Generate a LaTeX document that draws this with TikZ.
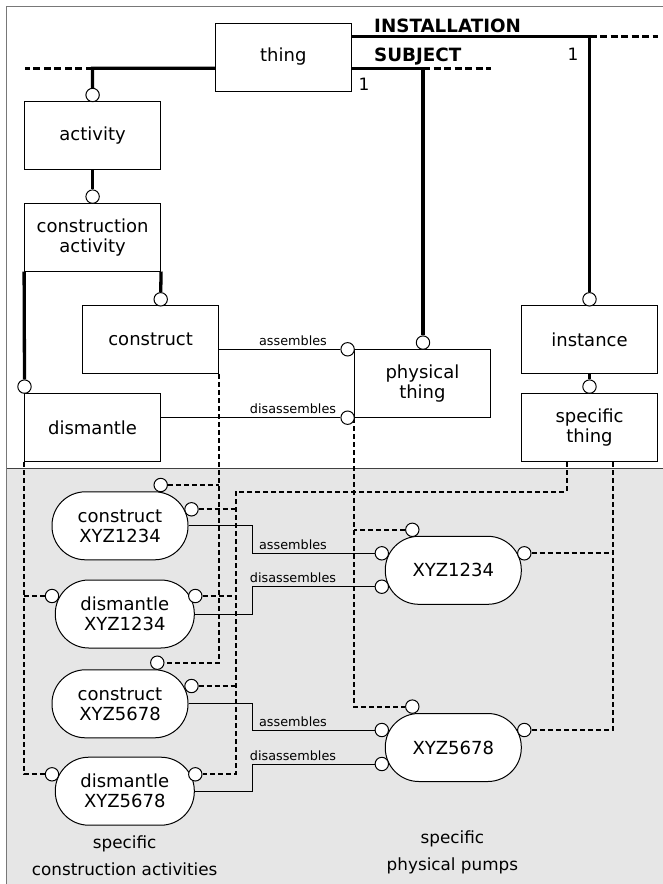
\documentclass[tikz,border=0pt]{standalone}
\usepackage{fontspec}
\setmainfont{DejaVu Sans}
\usetikzlibrary{calc,backgrounds}
\definecolor{panel}{RGB}{230,230,230}
\definecolor{framec}{RGB}{120,120,120}

\begin{document}
\begin{tikzpicture}[x=1pt,y=-1pt,
  box/.style={draw, line width=1pt, minimum width=136pt, minimum height=68pt,
    inner sep=0pt, align=center, font=\fontsize{18}{20}\selectfont},
  oval/.style={draw, fill=white, line width=1pt, rounded corners=33.5pt,
    minimum width=136pt, minimum height=68pt, inner sep=0pt, align=center,
    font=\fontsize{18}{20}\selectfont},
  ring/.style={circle, draw, fill=white, line width=1pt, minimum size=13.4pt, inner sep=0pt},
  heavy/.style={line width=3.3pt},
  heavydash/.style={line width=3.3pt, dash pattern=on 7pt off 3.5pt},
  rel/.style={line width=1pt},
  inst/.style={line width=2pt, dash pattern=on 5pt off 3pt},
  lbl/.style={font=\fontsize{12.8}{14}\selectfont, anchor=base, inner sep=0pt},
  hdr/.style={font=\bfseries\fontsize{18.3}{20}\selectfont, anchor=base west, inner sep=0pt},
  num/.style={font=\fontsize{17}{20}\selectfont, anchor=base, inner sep=0pt},
  caption/.style={align=center, font=\fontsize{16.8}{27.5}\selectfont, inner sep=0pt}
]
\useasboundingbox (0,0) rectangle (663,884);

% ---------- generic model (upper part) ----------
\node[box] (thing)     at (283.3,57)   {thing};
\node[box] (activity)  at (92.6,135.5) {activity};
\node[box] (conact)    at (92.6,237.2) {construction\\activity};
\node[box] (construct) at (150.6,339.7) {construct};
\node[box] (dismantle) at (92.6,427.5) {dismantle};
\node[box] (physical)  at (422.4,383.5) {physical\\thing};
\node[box] (instance)  at (589.5,339.7) {instance};
\node[box] (spthing)   at (589.5,427.5) {specific\\thing};

\node[hdr] (tInst) at (374,32.7) {INSTALLATION};
\node[hdr] (tSubj) at (374,61.7) {SUBJECT};
\node[num] (nInst) at (573,60.7) {1};
\node[num] (nSubj) at (364,90.7) {1};

\coordinate (jL) at (92.5,68.3);
\coordinate (eL) at (25,68.3);
\coordinate (jS) at (423,68.3);
\coordinate (eS) at (490.5,68.3);
\coordinate (jI) at (589.5,36.7);
\coordinate (eI) at (658,36.7);

\node[ring] (cA)  at (92.6,95)     {};
\node[ring] (cB)  at (92.6,196.6)  {};
\node[ring] (cC)  at (160.7,299.3) {};
\node[ring] (cD)  at (24.5,386.6)  {};
\node[ring] (cE)  at (423,342.6)   {};
\node[ring] (cF)  at (589.5,299.3) {};
\node[ring] (cG)  at (589.5,386.6) {};
\node[ring] (cAs) at (347.6,349.3) {};
\node[ring] (cDs) at (347.6,417.7) {};

% ---------- specific individuals (lower part) ----------
\node[oval] (cx1) at (120,525.8)   {construct\\XYZ1234};
\node[oval, minimum width=139pt] (dx1) at (124.8,614) {dismantle\\XYZ1234};
\node[oval] (cx2) at (120,703.8)   {construct\\XYZ5678};
\node[oval, minimum width=139pt] (dx2) at (124.8,791.2) {dismantle\\XYZ5678};
\node[oval] (p1)  at (453.3,570.3) {XYZ1234};
\node[oval] (p2)  at (453.3,747.5) {XYZ5678};

\node[ring] (cx1t) at (160.7,485)   {};
\node[ring] (cx1r) at (191.5,509.3) {};
\node[ring] (dx1l) at (52,596)      {};
\node[ring] (dx1r) at (195.3,596)   {};
\node[ring] (cx2t) at (157.3,662.7) {};
\node[ring] (cx2r) at (191.5,686)   {};
\node[ring] (dx2l) at (52,774.3)    {};
\node[ring] (dx2r) at (195.3,774.3) {};
\node[ring] (p1t)  at (412.3,529.8) {};
\node[ring] (p1r)  at (524.3,553.3) {};
\node[ring] (p1a)  at (381.8,553.3) {};
\node[ring] (p1b)  at (381.8,586.7) {};
\node[ring] (p2t)  at (412.3,706.6) {};
\node[ring] (p2r)  at (524.3,730)   {};
\node[ring] (p2a)  at (381.8,730)   {};
\node[ring] (p2b)  at (381.8,764)   {};

\node[lbl] (l1) at (293,345.3) {assembles};
\node[lbl] (l2) at (293,413.7) {disassembles};
\node[lbl] (l3) at (293,549.3) {assembles};
\node[lbl] (l4) at (293,582.7) {disassembles};
\node[lbl] (l5) at (293,726)   {assembles};
\node[lbl] (l6) at (293,760)   {disassembles};

\node[caption] (capA) at (124.7,855.5) {specific\\construction activities};
\node[caption] (capB) at (452.4,852.2) {specific\\physical pumps};

\coordinate (bend) at (252.5,0);
\coordinate (kS) at (235.5,491.7);
\coordinate (sA) at ($(spthing.south)+(-23,0)$);
\coordinate (sB) at ($(spthing.south)+(23.5,0)$);

\begin{scope}[on background layer]
  % panel and frame
  \fill[panel] (6.7,468.3) rectangle (663,884);
  \draw[framec, line width=1pt] (6.7,884) -- (6.7,6) -- (663,6);
  \draw[black!75, line width=0.8pt] (6.7,468.3) -- (663,468.3);

  % subtype / role relations
  \draw[heavy] (cA.north) -- (jL) -- (jL -| thing.west);
  \draw[heavydash] (jL) -- (eL);
  \draw[heavy] (cE.north) -- (jS) -- (jS -| thing.east);
  \draw[heavydash] (jS) -- (eS);
  \draw[heavy] (cF.north) -- (jI) -- (jI -| thing.east);
  \draw[heavydash] (jI) -- (eI);
  \draw[heavy] (activity.south) -- (cB.north);
  \draw[heavy] (conact.south west) -- (cD.north);
  \draw[heavy] (conact.south east) -- (cC.north);
  \draw[heavy] (instance.south) -- (cG.north);

  % relations between classes
  \draw[rel] (construct.east |- cAs) -- (cAs.west);
  \draw[rel] (dismantle.east |- cDs) -- (cDs.west);

  % relations between individuals
  \draw[rel] (cx1.east) -- (cx1.east -| bend) |- (p1a.west);
  \draw[rel] (dx1.east) -- (dx1.east -| bend) |- (p1b.west);
  \draw[rel] (cx2.east) -- (cx2.east -| bend) |- (p2a.west);
  \draw[rel] (dx2.east) -- (dx2.east -| bend) |- (p2b.west);

  % classification of individuals
  \draw[inst] (construct.south east) -- (construct.south east |- cx2t.east) -- (cx2t.east);
  \draw[inst] (cx1t.east) -- (cx1t.east -| construct.south east);
  \draw[inst] (dismantle.south west) -- (dismantle.south west |- dx2l.west) -- (dx2l.west);
  \draw[inst] (dx1l.west) -- (dx1l.west -| dismantle.south west);
  \draw[inst] (physical.south west) -- (physical.south west |- p2t.west) -- (p2t.west);
  \draw[inst] (p1t.west) -- (p1t.west -| physical.south west);
  \draw[inst] (sA) -- (sA |- kS) -- (kS) -- (kS |- dx2r.east) -- (dx2r.east);
  \draw[inst] (cx1r.east) -- (cx1r.east -| kS);
  \draw[inst] (dx1r.east) -- (dx1r.east -| kS);
  \draw[inst] (cx2r.east) -- (cx2r.east -| kS);
  \draw[inst] (sB) -- (sB |- p2r.east) -- (p2r.east);
  \draw[inst] (p1r.east) -- (p1r.east -| sB);
\end{scope}
\end{tikzpicture}
\end{document}
